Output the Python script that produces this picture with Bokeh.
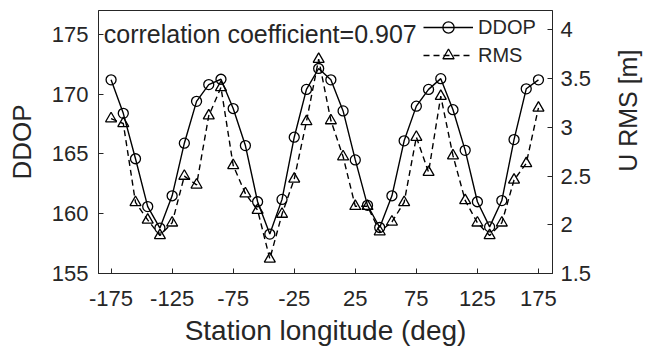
import math
from bokeh.plotting import figure
from bokeh.layouts import row
from bokeh.models import Range1d, LinearAxis, Label, Legend, LegendItem, FixedTicker
from bokeh.embed import file_html
from bokeh.resources import INLINE

longitude = [-175, -165, -155, -145, -135, -125, -115, -105, -95, -85, -75, -65,
             -55, -45, -35, -25, -15, -5, 5, 15, 25, 35, 45, 55,
             65, 75, 85, 95, 105, 115, 125, 135, 145, 155, 165, 175]
ddop = [171.2, 168.4, 164.6, 160.6, 158.8, 161.5, 165.9, 169.4, 170.8, 171.25, 168.8, 165.7,
        161.0, 158.3, 161.2, 166.4, 170.4, 172.15, 171.2, 168.6, 164.5, 160.7, 158.85, 161.5,
        166.1, 169.0, 170.4, 171.3, 168.7, 165.3, 161.0, 158.9, 161.1, 166.2, 170.45, 171.2]
rms = [3.09, 3.04, 2.23, 2.05, 1.89, 2.02, 2.50, 2.41, 3.12, 3.41, 2.61, 2.32,
       2.15, 1.65, 2.11, 2.47, 3.06, 3.70, 3.07, 2.70, 2.19, 2.19, 1.93, 2.03,
       2.23, 2.90, 2.54, 3.32, 2.71, 2.25, 2.02, 1.89, 2.02, 2.46, 2.63, 3.20]

x_ticks = [-175, -125, -75, -25, 25, 75, 125, 175]
ddop_ticks = [155, 160, 165, 170, 175]
rms_ticks = [1.5, 2, 2.5, 3, 3.5, 4]
corr_text = "correlation coefficient=0.907"
x_title = "Station longitude (deg)"
left_title = "DDOP"
right_title = "U RMS [m]"

FONT = "Liberation Sans"
AX = "#262626"

p = figure(width=606, height=349, output_backend="svg", toolbar_location=None,
           x_range=Range1d(-185.3, 186.5), y_range=Range1d(155, 177),
           min_border_left=98, min_border_right=54, min_border_top=10, min_border_bottom=76)
p.extra_y_ranges = {"rms": Range1d(1.5, 4.2)}
p.xgrid.visible = False
p.ygrid.visible = False
p.outline_line_color = AX
p.outline_line_width = 1
p.background_fill_color = "white"
p.border_fill_color = "white"

def style(ax, standoff, label_standoff, label_size):
    ax.axis_line_color = AX
    ax.major_tick_line_color = AX
    ax.major_tick_in = 5
    ax.major_tick_out = 0
    ax.minor_tick_line_color = None
    ax.major_label_text_font = FONT
    ax.major_label_text_font_size = "22px"
    ax.major_label_text_color = AX
    ax.major_label_standoff = standoff
    ax.axis_label_text_font = FONT
    ax.axis_label_text_font_size = label_size
    ax.axis_label_text_font_style = "normal"
    ax.axis_label_text_color = AX
    ax.axis_label_standoff = label_standoff

xa = p.xaxis[0]
xa.ticker = FixedTicker(ticks=x_ticks)
xa.major_label_overrides = {t: str(t) for t in x_ticks}
xa.axis_label = x_title
style(xa, 17, 6, "28px")

ya = p.yaxis[0]
ya.ticker = FixedTicker(ticks=ddop_ticks)
ya.axis_label = left_title
style(ya, 10, 12, "26px")

ra = LinearAxis(y_range_name="rms")
ra.ticker = FixedTicker(ticks=rms_ticks)
ra.major_label_overrides = {2: "2", 3: "3", 4: "4"}
style(ra, 8, 10, "25px")
p.add_layout(ra, "right")

l1 = p.line(longitude, ddop, line_color="black", line_width=1.4)
m1 = p.scatter(longitude, ddop, marker="circle", size=10, line_color="black",
               line_width=1.3, fill_alpha=0)
l2 = p.line(longitude, rms, y_range_name="rms", line_color="black", line_width=1.4,
            line_dash="6 4")
m2 = p.scatter(longitude, rms, y_range_name="rms", marker="triangle", size=11,
               line_color="black", line_width=1.3, fill_alpha=0)

lab = Label(x=-181, y=175, text=corr_text, text_font=FONT, text_font_size="25px",
            text_color=AX, text_baseline="middle")
p.add_layout(lab)

legend = Legend(items=[LegendItem(label="DDOP", renderers=[l1, m1]),
                       LegendItem(label="RMS", renderers=[l2, m2])],
                location=(325, 204), padding=0, margin=0, spacing=0,
                glyph_width=50, glyph_height=28, label_height=28, label_standoff=5,
                label_text_font=FONT, label_text_font_size="20px", label_text_color=AX,
                border_line_alpha=0, background_fill_alpha=0)
p.add_layout(legend)

# narrow strip holding the right-axis title, reading bottom to top
q = figure(width=40, height=349, output_backend="svg", toolbar_location=None,
           x_range=Range1d(0, 40), y_range=Range1d(0, 349),
           x_axis_location=None, y_axis_location=None, min_border=0)
q.xgrid.visible = False
q.ygrid.visible = False
q.outline_line_color = None
q.background_fill_color = "white"
q.border_fill_color = "white"
q.add_layout(Label(x=21, y=216, text=right_title, angle=math.pi / 2,
                   text_align="center", text_baseline="middle",
                   text_font=FONT, text_font_size="25px", text_color=AX))

layout = row(p, q, spacing=0)
open("out.html", "w").write(file_html(layout, INLINE))
